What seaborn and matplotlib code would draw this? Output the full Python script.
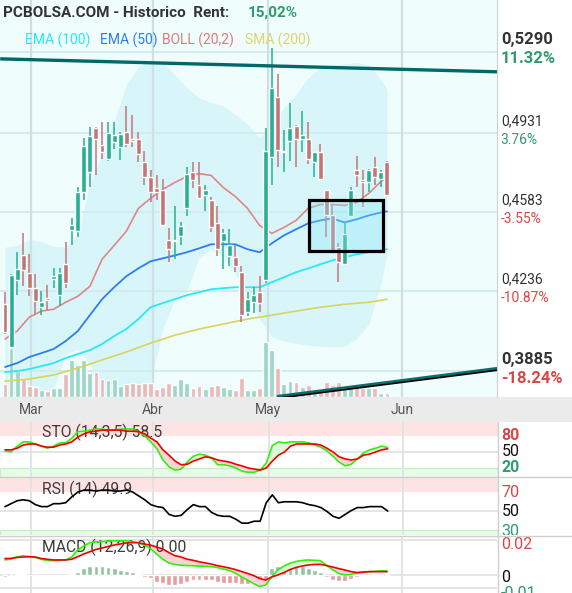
import numpy as np
import matplotlib
matplotlib.use("Agg")
import matplotlib.pyplot as plt
import matplotlib.patheffects as pe
import seaborn as sns
from matplotlib.patches import Rectangle
from matplotlib.lines import Line2D
from matplotlib.transforms import blended_transform_factory

sns.set_style("white")
plt.rcParams['font.family'] = ['Roboto', 'DejaVu Sans']

# ---------------------------------------------------------------- data
open_ = [0.4179, 0.3991, 0.4285, 0.4394, 0.4315, 0.4250, 0.4166, 0.4206, 0.4289, 0.4219,
         0.4355, 0.4504, 0.4500, 0.4675, 0.4759, 0.4956, 0.4882, 0.4820, 0.4895, 0.4869,
         0.4939, 0.4908, 0.4908, 0.4807, 0.4741, 0.4689, 0.4680, 0.4460, 0.4458, 0.4478,
         0.4601, 0.4763, 0.4706, 0.4658, 0.4636, 0.4535, 0.4456, 0.4390, 0.4386, 0.4320,
         0.4144, 0.4188, 0.4232, 0.4285, 0.4829, 0.5092, 0.4847, 0.4899, 0.4965, 0.4908,
         0.4908, 0.4807, 0.4851, 0.4684, 0.4574, 0.4430, 0.4355, 0.4566, 0.4772, 0.4728,
         0.4715, 0.4781, 0.4732, 0.4807]
high = [0.4232, 0.4311, 0.4408, 0.4491, 0.4399, 0.4311, 0.4236, 0.4263, 0.4337, 0.4337,
        0.4452, 0.4557, 0.4693, 0.4912, 0.4961, 0.4961, 0.4983, 0.4983, 0.4983, 0.4939,
        0.5053, 0.5013, 0.4939, 0.4855, 0.4772, 0.4750, 0.4732, 0.4513, 0.4610, 0.4539,
        0.4785, 0.4803, 0.4803, 0.4702, 0.4653, 0.4610, 0.4509, 0.4509, 0.4438, 0.4346,
        0.4232, 0.4254, 0.4302, 0.4956, 0.5308, 0.5193, 0.4948, 0.5066, 0.4970, 0.5031,
        0.4983, 0.4847, 0.4886, 0.4684, 0.4618, 0.4447, 0.4539, 0.4697, 0.4833, 0.4772,
        0.4776, 0.4825, 0.4772, 0.4811]
low = [0.4048, 0.3986, 0.4219, 0.4258, 0.4214, 0.4135, 0.4131, 0.4153, 0.4250, 0.4171,
       0.4250, 0.4438, 0.4473, 0.4640, 0.4697, 0.4750, 0.4820, 0.4811, 0.4864, 0.4816,
       0.4869, 0.4873, 0.4807, 0.4706, 0.4631, 0.4640, 0.4530, 0.4364, 0.4377, 0.4438,
       0.4566, 0.4689, 0.4645, 0.4588, 0.4495, 0.4390, 0.4333, 0.4346, 0.4320, 0.4100,
       0.4127, 0.4140, 0.4144, 0.4272, 0.4702, 0.4785, 0.4763, 0.4811, 0.4785, 0.4847,
       0.4798, 0.4741, 0.4732, 0.4473, 0.4408, 0.4276, 0.4355, 0.4561, 0.4693, 0.4605,
       0.4675, 0.4706, 0.4693, 0.4662]
close = [0.4056, 0.4307, 0.4333, 0.4329, 0.4250, 0.4192, 0.4188, 0.4197, 0.4302, 0.4315,
         0.4272, 0.4530, 0.4675, 0.4877, 0.4921, 0.4908, 0.4847, 0.4934, 0.4926, 0.4930,
         0.4886, 0.4899, 0.4842, 0.4741, 0.4675, 0.4675, 0.4530, 0.4421, 0.4462, 0.4522,
         0.4754, 0.4728, 0.4645, 0.4684, 0.4517, 0.4421, 0.4491, 0.4438, 0.4346, 0.4131,
         0.4201, 0.4219, 0.4184, 0.4855, 0.5132, 0.4860, 0.4855, 0.4956, 0.4908, 0.4926,
         0.4820, 0.4847, 0.4732, 0.4570, 0.4408, 0.4364, 0.4487, 0.4684, 0.4746, 0.4719,
         0.4772, 0.4741, 0.4759, 0.4662]
volume = [13, 49, 26, 19, 11, 10, 7, 6, 9, 9,
          23, 37, 32, 37, 24, 25, 18, 17, 18, 11,
          13, 14, 13, 14, 14, 8, 10, 14, 12, 18,
          14, 9, 11, 8, 11, 12, 10, 8, 7, 19,
          7, 7, 9, 55, 47, 29, 13, 16, 15, 10,
          12, 7, 7, 15, 12, 15, 11, 11, 13, 9,
          9, 9, 4, 4]

# moving averages / bollinger, read every 2nd session
line_idx = list(range(0, 64, 2)) + [63]
boll_mid = [0.4026, 0.4061, 0.4122, 0.4149, 0.4157, 0.4188, 0.4214, 0.4258, 0.4377, 0.4438,
            0.4500, 0.4601, 0.4645, 0.4684, 0.4715, 0.4741, 0.4754, 0.4746, 0.4693, 0.4653,
            0.4601, 0.4526, 0.4491, 0.4517, 0.4548, 0.4601, 0.4618, 0.4618, 0.4614, 0.4627,
            0.4667, 0.4719, 0.4737]
boll_up = [0.4430, 0.4438, 0.4465, 0.4456, 0.4434, 0.4430, 0.4487, 0.4706, 0.4838, 0.4983,
           0.5145, 0.5224, 0.5255, 0.5242, 0.5189, 0.5132, 0.5088, 0.5066, 0.5053, 0.5013,
           0.4970, 0.4912, 0.4970, 0.5044, 0.5101, 0.5176, 0.5220, 0.5233, 0.5237, 0.5242,
           0.5233, 0.5167, 0.5123]
boll_low = [0.3675, 0.3675, 0.3696, 0.3740, 0.3806, 0.3960, 0.3982, 0.3916, 0.3740, 0.3675,
            0.3675, 0.3696, 0.3828, 0.4070, 0.4201, 0.4236, 0.4386, 0.4421, 0.4394, 0.4311,
            0.4223, 0.4114, 0.4035, 0.4017, 0.4008, 0.3999, 0.3995, 0.3991, 0.3995, 0.4026,
            0.4092, 0.4267, 0.4399]
ema50 = [0.3903, 0.3920, 0.3947, 0.3964, 0.3982, 0.4017, 0.4061, 0.4131, 0.4201, 0.4254,
         0.4302, 0.4337, 0.4368, 0.4381, 0.4394, 0.4408, 0.4425, 0.4443, 0.4443, 0.4443,
         0.4421, 0.4408, 0.4447, 0.4482, 0.4509, 0.4535, 0.4548, 0.4557, 0.4539, 0.4553,
         0.4570, 0.4583, 0.4588]
ema100 = [0.3881, 0.3885, 0.3894, 0.3907, 0.3920, 0.3942, 0.3960, 0.3977, 0.4004, 0.4039,
          0.4070, 0.4114, 0.4166, 0.4184, 0.4201, 0.4219, 0.4232, 0.4245, 0.4250, 0.4254,
          0.4254, 0.4254, 0.4276, 0.4298, 0.4320, 0.4337, 0.4355, 0.4372, 0.4386, 0.4399,
          0.4408, 0.4416, 0.4421]
sma_idx = list(range(0, 64, 4)) + [63]
sma200 = [0.3841, 0.3850, 0.3868, 0.3898, 0.3934, 0.3969, 0.4008, 0.4043, 0.4070, 0.4092,
          0.4114, 0.4131, 0.4149, 0.4166, 0.4179, 0.4188, 0.4201]

sto_k = [52, 50, 61, 69, 69, 65, 61, 57, 61, 67,
         67, 76, 88, 89, 91, 93, 93, 91, 91, 93,
         93, 93, 88, 80, 69, 56, 35, 22, 16, 18,
         31, 42, 46, 44, 39, 26, 26, 24, 20, 14,
         12, 12, 16, 29, 62, 69, 67, 69, 69, 69,
         67, 63, 59, 52, 42, 31, 24, 27, 37, 48,
         54, 57, 61, 58.5]
sto_d = [54, 54, 57, 63, 65, 65, 61, 59, 59, 63,
         65, 69, 78, 84, 88, 89, 91, 91, 91, 91,
         89, 89, 88, 84, 76, 69, 54, 44, 33, 26,
         27, 33, 37, 41, 39, 35, 33, 31, 27, 24,
         20, 18, 16, 20, 33, 44, 50, 61, 65, 65,
         65, 65, 63, 57, 50, 41, 37, 35, 37, 44,
         46, 50, 54, 56]
rsi = [54.6, 57.7, 60.8, 61.8, 60.8, 56.7, 54.6, 54.6, 57.7, 57.7,
       58.7, 64.9, 70, 72, 72, 71, 72, 72, 71, 71,
       72, 70, 65.9, 61.8, 56.7, 54.6, 53.6, 46.4, 44.4, 45.4,
       51.5, 56.7, 54.6, 54.6, 48.5, 45.4, 44.4, 44.4, 41.3, 37.2,
       37.2, 39.2, 39.2, 58.7, 67, 58.7, 59.7, 59.7, 59.7, 58.7,
       56.7, 55.6, 53.6, 49.5, 44.4, 42.3, 46.4, 50.5, 53.6, 53.6,
       54.6, 54.6, 54.6, 49.9]
# MACD values in thousandths
macd = [8.6, 9.1, 10.5, 10.9, 10.6, 10.0, 8.9, 8.3, 8.2, 8.3,
        8.6, 10.3, 14.3, 16.6, 18.5, 18.9, 19.1, 19.4, 19.6, 19.6,
        19.6, 19.1, 18.3, 17.1, 15.1, 12.0, 9.1, 6.9, 6.0, 5.6,
        5.4, 5.3, 5.1, 5.0, 4.8, 4.3, 3.4, 2.6, 1.1, -1.1,
        -2.9, -4.9, -6.6, -5.7, -1.1, 2.9, 5.1, 6.7, 7.7, 8.3,
        8.6, 8.4, 8.2, 5.7, 3.1, 1.0, 0.0, 0.3, 1.0, 1.4,
        1.9, 2.1, 2.4, 2.3]
signal = [9.4, 9.5, 10.0, 10.3, 10.4, 10.3, 9.4, 9.0, 8.6, 8.6,
          8.6, 9.0, 10.5, 12.0, 13.3, 14.6, 15.4, 16.3, 17.1, 17.7,
          18.3, 18.5, 18.5, 17.7, 17.1, 16.0, 14.9, 12.9, 11.1, 10.3,
          9.1, 8.4, 7.6, 6.9, 6.3, 5.4, 4.7, 4.0, 3.1, 2.0,
          0.9, -0.3, -2.0, -2.9, -1.1, 0.0, 1.4, 3.1, 4.3, 5.1,
          5.7, 6.0, 6.1, 5.4, 4.6, 3.7, 2.9, 2.0, 1.4, 1.7,
          1.9, 1.9, 1.9, 1.9]
hist = [-1.0, 0.2, 0.6, 0.6, 0.2, -0.4, -0.4, -0.4, -0.4, -0.4,
        -0.3, 0.3, 1.9, 4.2, 5.1, 5.3, 5.3, 4.7, 3.8, 2.9,
        2.5, 1.5, 0.3, -1.0, -1.9, -3.8, -4.7, -5.7, -5.7, -5.3,
        -3.8, -2.9, -2.9, -2.9, -2.9, -3.8, -4.4, -4.4, -4.7, -5.3,
        -5.3, -5.3, -4.7, -2.9, 4.0, 5.1, 5.7, 5.7, 5.1, 5.1,
        4.0, 2.9, 1.7, -1.1, -2.9, -3.7, -3.7, -2.3, -1.1, -0.6,
        0.0, 0.3, 0.6, 0.6]

month_labels = ["Mar", "Abr", "May", "Jun"]
month_pos = [4.3, 24.4, 43.4, 65.5]
price_ticks = [0.5290, 0.4931, 0.4583, 0.4236, 0.3885]
price_labels = ["0,5290", "0,4931", "0,4583", "0,4236", "0,3885"]
pct_labels = ["11.32%", "3.76%", "-3.55%", "-10.87%", "-18.24%"]

trend_top_x = [-0.8, 81.2]
trend_top_y = [0.5259, 0.5202]
trend_bot_x = [45.0, 81.2]
trend_bot_y = [0.3775, 0.3898]
box_x, box_y = [50.2, 62.4], [0.4412, 0.4636]

# ---------------------------------------------------------------- layout
W, H = 572, 593
fig = plt.figure(figsize=(W / 100, H / 100), dpi=100)
fig.patch.set_facecolor('white')
XLIM = (-0.825, 81.15)
GREEN, RED = '#27b092', '#c27777'


def box(x0, y0, x1, y1):
    return [x0 / W, 1 - y1 / H, (x1 - x0) / W, (y1 - y0) / H]


def clean(a):
    a.set_xticks([])
    a.set_yticks([])
    a.set_xlabel('')
    a.set_ylabel('')
    for s in a.spines.values():
        s.set_visible(False)


idx = np.arange(len(close))
op, cl = np.array(open_), np.array(close)
up = cl >= op
ccol = [GREEN if u else RED for u in up]

# ---------------------------------------------------------------- main price panel
ax = fig.add_axes(box(0, 0, 497, 397))
ax.set_facecolor('#effdfd')
ax.set_xlim(XLIM)
ax.set_ylim(0.3771, 0.5518)

ax.fill_between(line_idx, boll_up, boll_low, color='#d8f6fa', lw=0, zorder=0.5)
for v in price_ticks:
    ax.axhline(v, color='#d2ebec', lw=1.3, zorder=1)
for m in month_pos:
    ax.axvline(m, color='#cde1e3', lw=1.6, zorder=1)

trans = blended_transform_factory(ax.transData, ax.transAxes)
vcol = ['#93d4c2' if u else '#e8b3b3' for u in up]
vol_frac = np.array(volume) / max(volume) * 0.139
ax.bar(idx, vol_frac, width=0.8, bottom=0, color=vcol, alpha=0.9, transform=trans, zorder=2)

sns.lineplot(x=sma_idx, y=sma200, ax=ax, color='#d8d45c', lw=1.2, zorder=3)
sns.lineplot(x=line_idx, y=ema100, ax=ax, color='#2ae9f4', lw=1.3, zorder=3)
sns.lineplot(x=line_idx, y=ema50, ax=ax, color='#2b7df3', lw=1.3, zorder=3)
sns.lineplot(x=line_idx, y=boll_mid, ax=ax, color='#df8686', lw=1.2, zorder=3)

ax.vlines(idx, low, high, colors=ccol, lw=1.1, zorder=4)
body_h = np.maximum(np.abs(cl - op), 0.0006)
ax.bar(idx, body_h, bottom=np.minimum(op, cl), width=0.82, color=ccol, zorder=5)

ax.add_patch(Rectangle((box_x[0], box_y[0]), box_x[1] - box_x[0], box_y[1] - box_y[0],
                       facecolor=(0.55, 0.90, 0.97, 0.35), edgecolor='black', lw=2.3, zorder=6))
ax.plot(trend_top_x, trend_top_y, color='#006868', lw=2.4, zorder=7, solid_capstyle='butt')
ax.plot(trend_bot_x, trend_bot_y, color='#0b6d6b', lw=1.8, zorder=7,
        path_effects=[pe.SimpleLineShadow(offset=(0, -1.2), shadow_color='black', alpha=1), pe.Normal()])
clean(ax)

# right price labels
axr = fig.add_axes(box(497, 0, 572, 397), sharey=ax)
axr.set_facecolor('white')
clean(axr)
axr.spines['left'].set_visible(True)
axr.spines['left'].set_color('#d0d0d0')
rtr = blended_transform_factory(axr.transAxes, axr.transData)
for k, (v, pl, pc) in enumerate(zip(price_ticks, price_labels, pct_labels)):
    bold = k in (0, len(price_ticks) - 1)
    pcol = '#2e9c6c' if not pc.startswith('-') else '#d64848'
    axr.annotate(pl, (0.05, v), xycoords=rtr, xytext=(0, 8.6), textcoords='offset points',
                 va='center', ha='left', fontsize=12 if bold else 10,
                 fontweight='bold' if bold else 'normal', color='#333333')
    axr.annotate(pc, (0.05, v), xycoords=rtr, xytext=(0, -5), textcoords='offset points',
                 va='center', ha='left', fontsize=12 if bold else 10,
                 fontweight='bold' if bold else 'normal', color=pcol)

# title and legend
fig.text(3 / W, 1 - 13 / H, "PCBOLSA.COM - Historico  Rent:", fontsize=11, fontweight='bold',
         color='#333333', va='center', ha='left')
fig.text(248 / W, 1 - 13 / H, "15,02%", fontsize=11, fontweight='bold', color='#2e9c6c',
         va='center', ha='left')
legend = [("EMA (100)", '#2ae9f4', 25), ("EMA (50)", '#2b7df3', 100),
          ("BOLL (20,2)", '#e27878', 162), ("SMA (200)", '#ddd46e', 245)]
for txt, c, xp in legend:
    fig.text(xp / W, 1 - 40 / H, txt, fontsize=10, color=c, va='center', ha='left')

# x axis band
fig.add_artist(Rectangle((0, 1 - 422 / H), 1, 25 / H, transform=fig.transFigure,
                         facecolor='#ebebeb', edgecolor='none', zorder=-1))
for m, lab in zip(month_pos, month_labels):
    ax.text(m, -0.033, lab, transform=trans, ha='center', va='center', fontsize=10,
            color='#555555', clip_on=False)


# ---------------------------------------------------------------- indicator panels
def panel(y0, y1, ylim, right=498):
    a = fig.add_axes(box(0, y0, right, y1))
    a.set_facecolor('white')
    a.set_xlim(XLIM)
    a.set_ylim(ylim)
    for m in month_pos:
        a.axvline(m, color='#e3e3e3', lw=1.4, zorder=0.5)
    r = fig.add_axes(box(right, y0, 572, y1), sharey=a)
    r.set_facecolor('white')
    return a, r


def rlabel(r, v, txt, color, bold):
    r.text(0.05, v, txt, transform=blended_transform_factory(r.transAxes, r.transData),
           va='center', ha='left', fontsize=11.5, color=color,
           fontweight='bold' if bold else 'normal', clip_on=True)


def ptitle(a, y, txt):
    a.text(0.084, y, txt, transform=a.transAxes, fontsize=11.3, color='#3c3c3c',
           va='center', ha='left', zorder=1.5)


# STO
ax_s, ax_sr = panel(422, 477, (3.1, 106.25))
ax_s.axhspan(80, 106.25, color='#fde3e3', lw=0, zorder=0.2)
ax_s.axhspan(3.1, 20, facecolor='#e8fde8', edgecolor='#c8eec8', lw=1, zorder=0.2)
ax_s.axhline(50, color='#e0e0e0', lw=1.2, zorder=0.5)
k, d = np.array(sto_k, float), np.array(sto_d, float)
ax_s.fill_between(idx, k, d, where=k >= d, interpolate=True, color='#d9fbd5', lw=0, zorder=1)
ax_s.fill_between(idx, k, d, where=k < d, interpolate=True, color='#fad4d4', lw=0, zorder=1)
ptitle(ax_s, 0.82, "STO (14,3,5) 58.5")
sns.lineplot(x=idx, y=k, ax=ax_s, color='#33ee11', lw=1.2, zorder=2)
sns.lineplot(x=idx, y=d, ax=ax_s, color='#f00000', lw=1.2, zorder=3)
clean(ax_s)
clean(ax_sr)
rlabel(ax_sr, 80, "80", '#d64848', True)
rlabel(ax_sr, 50, "50", '#111111', False)
rlabel(ax_sr, 20, "20", '#2e9c6c', True)

# RSI
ax_r, ax_rr = panel(477, 535, (24.7, 85.8))
ax_r.axhspan(70, 85.8, color='#fde3e3', lw=0, zorder=0.2)
ax_r.axhspan(24.7, 30, facecolor='#e8fde8', edgecolor='#c8eec8', lw=1, zorder=0.2)
ax_r.axhline(50, color='#e0e0e0', lw=1.2, zorder=0.5)
ptitle(ax_r, 0.78, "RSI (14) 49.9")
sns.lineplot(x=idx, y=rsi, ax=ax_r, color='black', lw=1.2, zorder=2)
clean(ax_r)
clean(ax_rr)
rlabel(ax_rr, 69, "70", '#d64848', False)
rlabel(ax_rr, 49, "50", '#111111', False)
rlabel(ax_rr, 28, "30", '#2e9c6c', False)

# MACD
ax_m, ax_mr = panel(536, 593, (-0.0103, 0.0223), right=497)
for v in (0.02, 0.0, -0.0075):
    ax_m.axhline(v, color='#e0e0e0', lw=1.2, zorder=0.5)
mv, sv, hv = np.array(macd) / 1000, np.array(signal) / 1000, np.array(hist) / 1000
ax_m.bar(idx, hv, width=0.8, color=['#94c4a4' if h >= 0 else '#e49e9e' for h in hv], zorder=1)
ax_m.fill_between(idx, mv, sv, where=mv >= sv, interpolate=True, color='#d9fbd5', lw=0, zorder=1.2)
ax_m.fill_between(idx, mv, sv, where=mv < sv, interpolate=True, color='#fad4d4', lw=0, zorder=1.2)
ptitle(ax_m, 0.807, "MACD (12,26,9) 0.00")
sns.lineplot(x=idx, y=mv, ax=ax_m, color='#33ee11', lw=1.2, zorder=2)
sns.lineplot(x=idx, y=sv, ax=ax_m, color='#f00000', lw=1.2, zorder=3)
clean(ax_m)
clean(ax_mr)
rlabel(ax_mr, 0.0176, "0.02", '#d64848', False)
rlabel(ax_mr, -0.0017, "0", '#111111', False)
rlabel(ax_mr, -0.0104, "-0.01", '#2e9c6c', False)

# panel separators
for yy in (477, 535.5):
    fig.add_artist(Line2D([0, 1], [1 - yy / H] * 2, transform=fig.transFigure,
                          color='#cfcfcf', lw=1))
fig.add_artist(Line2D([498 / W] * 2, [1 - 593 / H, 1 - 422 / H], transform=fig.transFigure,
                      color='#cfcfcf', lw=1))

fig.savefig("out.png", dpi=100)
